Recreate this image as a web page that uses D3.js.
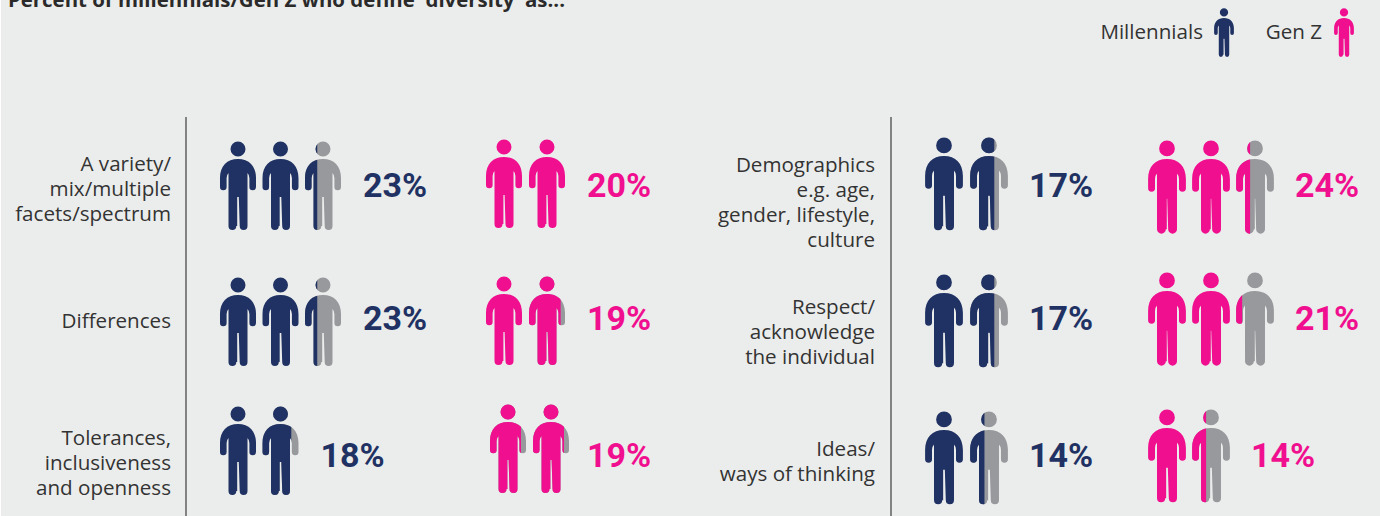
<!DOCTYPE html>
<html>
<head>
<meta charset="utf-8">
<script src="https://cdn.jsdelivr.net/npm/d3@7"></script>
<style>
  html, body { margin: 0; padding: 0; background: #fff; }
  svg { display: block; font-family: "Open Sans", sans-serif; }
</style>
</head>
<body>
<div id="chart"></div>
<script>
const title = "Percent of millennials/Gen Z who define 'diversity' as..."
const legendLabels = ['Millennials', 'Gen Z']

const leftLabels = [
  ['A variety/', 'mix/multiple', 'facets/spectrum'],
  ['Differences'],
  ['Tolerances,', 'inclusiveness', 'and openness']
]
const rightLabels = [
  ['Demographics', 'e.g. age,', 'gender, lifestyle,', 'culture'],
  ['Respect/', 'acknowledge', 'the individual'],
  ['Ideas/', 'ways of thinking']
]

const leftMillennials = [23, 23, 18]
const leftGenZ = [20, 19, 19]
const rightMillennials = [17, 17, 14]
const rightGenZ = [24, 21, 14]

// share of each figure that is coloured
const leftMillennialFills = [[1, 1, 0.34], [1, 1, 0.34], [1, 0.8]]
const leftGenZFills = [[1, 1], [1, 0.88], [0.86, 0.86]]
const rightMillennialFills = [[1, 0.64], [1, 0.64], [1, 0.38]]
const rightGenZFills = [[1, 1, 0.37], [1, 1, 0.16], [1, 0.37]]

const width = 1380
const height = 516
const navy = '#1f3263'
const pink = '#f0108f'
const grey = '#98999c'

const svg = d3.select('#chart').append('svg')
  .attr('width', width)
  .attr('height', height)

svg.append('rect')
  .attr('x', 1)
  .attr('width', width - 1)
  .attr('height', height)
  .attr('fill', '#ebedec')

svg.append('text')
  .attr('x', 8)
  .attr('y', 7)
  .attr('font-size', 20.4)
  .attr('font-weight', 700)
  .attr('fill', '#2a2a2a')
  .text(title)

// figure drawn around x = 0, from y = 0 (top of head) to y = 89 (feet)
function figurePath(legGap) {
  const p = d3.path()
  const g = legGap / 2
  p.moveTo(0, 18)
  p.bezierCurveTo(11, 18, 18, 25, 18, 37)
  p.lineTo(18, 46)
  p.arc(14.7, 46, 3.3, 0, Math.PI)
  p.lineTo(11.4, 37)
  p.quadraticCurveTo(11.4, 34, 9.5, 32)
  p.lineTo(9.5, 85)
  p.arc(5.2 + g / 2, 85, 4.3 - g / 2, 0, Math.PI)
  p.lineTo(g, 56)
  p.lineTo(-g, 56)
  p.lineTo(-g, 85)
  p.arc(-5.2 - g / 2, 85, 4.3 - g / 2, 0, Math.PI)
  p.lineTo(-9.5, 32)
  p.quadraticCurveTo(-11.4, 34, -11.4, 37)
  p.lineTo(-11.4, 46)
  p.arc(-14.7, 46, 3.3, 0, Math.PI)
  p.lineTo(-18, 37)
  p.bezierCurveTo(-18, 25, -11, 18, 0, 18)
  p.closePath()
  p.moveTo(7.5, 8)
  p.arc(0, 8, 7.5, 0, Math.PI * 2)
  p.closePath()
  return p.toString()
}

const fillScale = d3.scaleLinear([0, 1], [-18, 18])
const defs = svg.append('defs')
let clipCount = 0

function drawFigure(parent, x, y, scale, fill, color, legGap) {
  const d = figurePath(legGap)
  const id = `clip-${clipCount++}`
  defs.append('clipPath').attr('id', id)
    .append('rect')
    .attr('x', fillScale(0) - 1)
    .attr('y', -1)
    .attr('width', fillScale(fill) - fillScale(0) + (fill === 1 ? 2 : 1))
    .attr('height', 92)
  const g = parent.append('g')
    .attr('transform', `translate(${x},${y}) scale(${scale})`)
  if (fill < 1) g.append('path').attr('d', d).attr('fill', grey)
  g.append('path').attr('d', d).attr('fill', color).attr('clip-path', `url(#${id})`)
}

const rows = d3.range(3)
const textBaseline = d3.scaleOrdinal(rows, [197, 330, 467])

const groups = [
  {
    values: leftMillennials, fills: leftMillennialFills, color: navy, scale: 1, legGap: [1.6, 1.6, 1.6],
    x: d3.scaleLinear([0, 2], [238, 323]),
    top: d3.scaleOrdinal(rows, [141, 277, 406]),
    shift: [0, 0, 0]
  },
  {
    values: leftGenZ, fills: leftGenZFills, color: pink, scale: 1, legGap: [1.2, 1.2, 1.2],
    x: d3.scaleLinear([0, 1], [504, 547]),
    top: d3.scaleOrdinal(rows, [139, 276, 404]),
    shift: [0, 0, 4]
  },
  {
    values: rightMillennials, fills: rightMillennialFills, color: navy, scale: 1.05, legGap: [1.6, 1.6, 1.6],
    x: d3.scaleLinear([0, 1], [944, 989]),
    top: d3.scaleOrdinal(rows, [137, 274, 411]),
    shift: [0, 0, 0]
  },
  {
    values: rightGenZ, fills: rightGenZFills, color: pink, scale: 1.05, legGap: [0.4, 0.4, 1.6],
    x: d3.scaleLinear([0, 2], [1167, 1255]),
    top: d3.scaleOrdinal(rows, [140, 272, 409]),
    shift: [0, 0, 0]
  }
]

groups.forEach(group => {
  const layer = svg.append('g')
  group.values.forEach((value, row) => {
    const fills = group.fills[row]
    fills.forEach((fill, i) => {
      drawFigure(layer, group.x(i) + group.shift[row], group.top(row), group.scale, fill, group.color, group.legGap[row])
    })
    layer.append('text')
      .attr('x', group.x(fills.length - 1) + 40)
      .attr('y', textBaseline(row))
      .attr('font-family', 'Roboto, sans-serif')
      .attr('font-size', 34)
      .attr('font-weight', 700)
      .attr('fill', group.color)
      .text(`${value}%`)
  })
})

function drawLabels(labels, x, centres) {
  labels.forEach((lines, row) => {
    const first = centres[row] - (lines.length - 1) * 12.5
    svg.append('g').selectAll('text')
      .data(lines)
      .join('text')
      .attr('x', x)
      .attr('y', (_, i) => first + i * 25 + 7)
      .attr('text-anchor', 'end')
      .attr('font-size', 20.6)
      .attr('fill', '#333')
      .text(d => d)
  })
}

drawLabels(leftLabels, 171, [189, 321, 463])
drawLabels(rightLabels, 875, [202, 331.5, 461.5])

// vertical dividers
;[186, 891].forEach(x => {
  svg.append('line')
    .attr('x1', x).attr('x2', x)
    .attr('y1', 117).attr('y2', height)
    .attr('stroke', '#555')
    .attr('stroke-width', 1.4)
})

// legend
const legend = svg.append('g')
legend.append('text')
  .attr('x', 1203).attr('y', 39)
  .attr('text-anchor', 'end')
  .attr('font-size', 20.6)
  .attr('fill', '#333')
  .text(legendLabels[0])
legend.append('text')
  .attr('x', 1322).attr('y', 39)
  .attr('text-anchor', 'end')
  .attr('font-size', 20.6)
  .attr('fill', '#333')
  .text(legendLabels[1])
drawFigure(legend, 1224, 8, 0.55, 1, navy, 1.6)
drawFigure(legend, 1344, 8, 0.55, 1, pink, 1.6)
</script>
</body>
</html>
